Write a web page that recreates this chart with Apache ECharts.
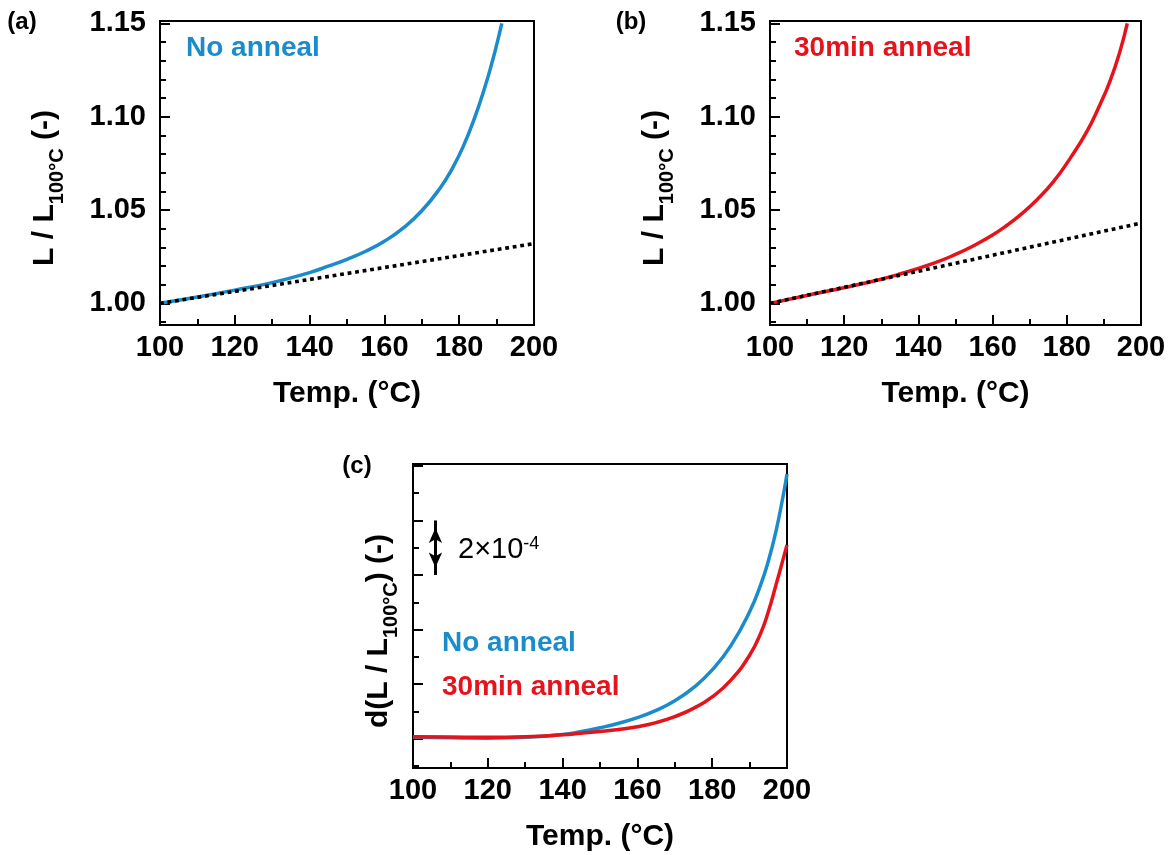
<!DOCTYPE html>
<html>
<head>
<meta charset="utf-8">
<script src="https://cdn.jsdelivr.net/npm/echarts@6/dist/echarts.min.js"></script>
<style>
  html, body { margin: 0; padding: 0; background: #ffffff; }
  #chart { width: 1169px; height: 855px; }
</style>
</head>
<body>
<div id="chart"></div>
<script>
const FONT = "'Liberation Sans', Arial, Helvetica, sans-serif";
const BLUE = '#1a8ccb';
const RED = '#e5141c';

// (a) No anneal: normalised length L / L100°C against temperature
const tempNoAnneal  = [100, 110, 120, 130, 140, 145, 150, 155, 160, 165, 170, 175, 178, 181, 184, 187, 189, 190, 191.4];
const ratioNoAnneal = [1.0000, 1.0034, 1.0071, 1.0111, 1.0165, 1.0199, 1.0236, 1.0279, 1.0333, 1.0403, 1.0496,
                       1.0621, 1.0717, 1.0837, 1.0987, 1.1167, 1.1307, 1.1384, 1.1500];
// linear (low-temperature) expansion reference for (a)
const linearTempA  = [100, 200];
const linearRatioA = [1.000, 1.032];

// (b) 30 min anneal
const temp30min  = [100, 112.6, 126, 135, 144, 150, 155, 160, 164, 167.4, 171.9, 176.4, 180.9, 185.4, 188.9, 191.6, 194.3, 196.3];
const ratio30min = [1.0000, 1.0054, 1.0110, 1.0157, 1.0214, 1.0262, 1.0310, 1.0366, 1.0420, 1.0473, 1.0554,
                    1.0652, 1.0777, 1.0920, 1.1063, 1.1188, 1.1348, 1.1500];
const linearTempB  = [100, 200];
const linearRatioB = [1.000, 1.043];

// (c) derivative d(L / L100°C), in units of 1e-4
const tempDeriv     = [100, 110, 120, 130, 140, 145, 150, 155, 160, 165, 170, 175, 180, 185, 190, 193, 195, 197, 199, 200];
const derivNoAnneal = [2.05, 2.03, 2.02, 2.05, 2.15, 2.26, 2.40, 2.565, 2.77, 3.035, 3.39, 3.87, 4.52, 5.41, 6.65,
                       7.655, 8.505, 9.575, 10.925, 11.70];
const deriv30min    = [2.07, 2.06, 2.05, 2.07, 2.14, 2.20, 2.26, 2.335, 2.44, 2.59, 2.81, 3.11, 3.53, 4.145, 5.06,
                       5.88, 6.65, 7.61, 8.60, 9.10];
// scale bar: 2 units = 2×10^-4
const scaleBarTemp = 106;
const scaleBarFrom = 8;
const scaleBarTo   = 10;

// tick positions
const ratioMajorTicks = [1.00, 1.05, 1.10, 1.15];
const ratioMinorTicks = [0.99, 1.01, 1.02, 1.03, 1.04, 1.06, 1.07, 1.08, 1.09, 1.11, 1.12, 1.13, 1.14];
const derivMajorTicks = [2, 4, 6, 8, 10, 12];
const derivMinorTicks = [1, 3, 5, 7, 9, 11];

const zip = (xs, ys) => xs.map((x, i) => [x, ys[i]]);

const black = { color: '#000', width: 2 };
const tickFont = { color: '#000', fontSize: 29, fontWeight: 'bold', fontFamily: FONT };
const titleFont = { color: '#000', fontSize: 30, fontWeight: 'bold', fontFamily: FONT };

function tempAxis(gridIndex) {
  return {
    gridIndex, type: 'value', min: 100, max: 200, interval: 20,
    axisLine: { show: true, onZero: false, lineStyle: black },
    axisTick: { show: true, inside: true, length: 10, lineStyle: black },
    minorTick: { show: true, splitNumber: 2, length: 6, lineStyle: black },
    splitLine: { show: false }, minorSplitLine: { show: false },
    axisLabel: Object.assign({ margin: 8 }, tickFont),
    name: 'Temp. (°C)', nameLocation: 'middle', nameGap: 54, nameTextStyle: titleFont
  };
}

function valueAxes(gridIndex, min, max, majors, minors, showLabels, fmt) {
  return [
    {
      gridIndex, type: 'value', min, max, position: 'left',
      axisLine: { show: true, onZero: false, lineStyle: black },
      axisTick: { show: true, inside: true, length: 10, customValues: majors, lineStyle: black },
      axisLabel: Object.assign({ show: showLabels, margin: 14, customValues: majors, formatter: fmt }, tickFont),
      splitLine: { show: false }
    },
    {
      gridIndex, type: 'value', min, max, position: 'left',
      axisLine: { show: false },
      axisTick: { show: true, inside: true, length: 6, customValues: minors, lineStyle: black },
      axisLabel: { show: false },
      splitLine: { show: false }
    }
  ];
}

const fmt2 = v => v.toFixed(2);
const ratioMin = 0.9884, ratioMax = 1.1513;
const derivMin = 0.925, derivMax = 12.07;

const frame = { show: true, borderColor: '#000', borderWidth: 2, backgroundColor: 'transparent' };

const curve = (name, color, data, xi, yi) => ({
  name, type: 'line', xAxisIndex: xi, yAxisIndex: yi, data,
  showSymbol: false, smooth: 0.5, silent: true,
  lineStyle: { color, width: 3.5 }
});
const dotted = (data, xi, yi) => ({
  type: 'line', xAxisIndex: xi, yAxisIndex: yi, data,
  showSymbol: false, silent: true,
  lineStyle: { color: '#000', width: 3.6, type: [3.8, 3.8] }
});

const yTitleRich = {
  m: { fontSize: 30, fontWeight: 'bold', fontFamily: FONT, lineHeight: 44, fill: '#000' },
  s: { fontSize: 20, fontWeight: 'bold', fontFamily: FONT, lineHeight: 20, verticalAlign: 'bottom', fill: '#000' }
};

function label(text, x, y, color, size, weight, align) {
  return {
    type: 'text', x, y, silent: true,
    style: {
      text, fill: color, fontSize: size, fontWeight: weight, fontFamily: FONT,
      align: align || 'left', verticalAlign: 'middle'
    }
  };
}

function yTitle(text, x, y) {
  return {
    type: 'text', x, y, rotation: Math.PI / 2, silent: true,
    style: { text, rich: yTitleRich, align: 'center', verticalAlign: 'middle', fill: '#000' }
  };
}

const option = {
  backgroundColor: '#ffffff',
  animation: false,
  grid: [
    Object.assign({ left: 160, top: 21, width: 374, height: 304 }, frame),
    Object.assign({ left: 770, top: 21, width: 371, height: 304 }, frame),
    Object.assign({ left: 413, top: 464, width: 374, height: 304 }, frame)
  ],
  xAxis: [tempAxis(0), tempAxis(1), tempAxis(2)],
  yAxis: [].concat(
    valueAxes(0, ratioMin, ratioMax, ratioMajorTicks, ratioMinorTicks, true, fmt2),
    valueAxes(1, ratioMin, ratioMax, ratioMajorTicks, ratioMinorTicks, true, fmt2),
    valueAxes(2, derivMin, derivMax, derivMajorTicks, derivMinorTicks, false)
  ),
  series: [
    curve('No anneal', BLUE, zip(tempNoAnneal, ratioNoAnneal), 0, 0),
    dotted(zip(linearTempA, linearRatioA), 0, 0),
    curve('30min anneal', RED, zip(temp30min, ratio30min), 1, 2),
    dotted(zip(linearTempB, linearRatioB), 1, 2),
    Object.assign(curve('No anneal', BLUE, zip(tempDeriv, derivNoAnneal), 2, 4), {
      markLine: {
        silent: true, animation: false,
        symbol: ['arrow', 'arrow'],
        symbolSize: [10, 15],
        symbolOffset: [[0, 7.5], [0, 7.5]],
        lineStyle: { color: '#000', width: 3, type: 'solid' },
        itemStyle: { color: '#000' },
        label: { show: false },
        emphasis: { disabled: true },
        data: [[{ coord: [scaleBarTemp, scaleBarFrom] }, { coord: [scaleBarTemp, scaleBarTo] }]]
      }
    }),
    curve('30min anneal', RED, zip(tempDeriv, deriv30min), 2, 4)
  ],
  graphic: [
    label('(a)', 22, 22, '#000', 24, 'bold', 'center'),
    label('(b)', 631, 22, '#000', 24, 'bold', 'center'),
    label('(c)', 357, 466, '#000', 24, 'bold', 'center'),
    label('No anneal', 186, 48, BLUE, 28, 'bold'),
    label('30min anneal', 794, 48, RED, 28, 'bold'),
    label('No anneal', 442, 643, BLUE, 28, 'bold'),
    label('30min anneal', 442, 687, RED, 28, 'bold'),
    {
      type: 'text', x: 458, y: 550, silent: true,
      style: {
        text: '{n|2×10}{p|-4}', align: 'left', verticalAlign: 'middle',
        rich: {
          n: { fontSize: 29, fontFamily: FONT, lineHeight: 30, fill: '#000' },
          p: { fontSize: 18, fontFamily: FONT, lineHeight: 18, verticalAlign: 'top', fill: '#000' }
        }
      }
    },
    yTitle('{m|L / L}{s|100°C}{m| (-)}', 45, 188),
    yTitle('{m|L / L}{s|100°C}{m| (-)}', 655, 188),
    yTitle('{m|d(L / L}{s|100°C}{m|) (-)}', 379, 631)
  ]
};

const chart = echarts.init(document.getElementById('chart'), null, { renderer: 'canvas' });
chart.setOption(option);
</script>
</body>
</html>
